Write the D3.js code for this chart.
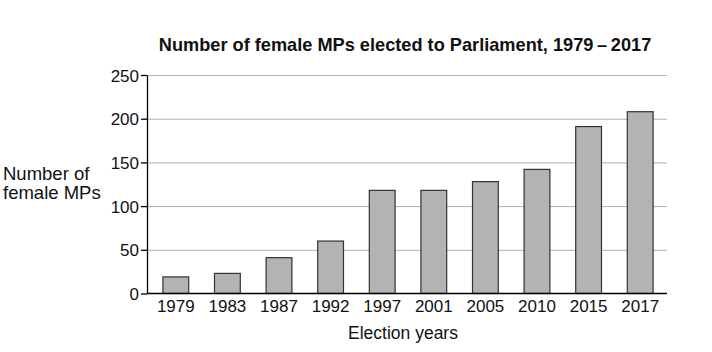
<!DOCTYPE html>
<html>
<head>
<meta charset="utf-8">
<script src="https://cdn.jsdelivr.net/npm/d3@7"></script>
<style>
  body { margin: 0; background: #fff; }
  svg, svg text { font-family: "Liberation Sans", Arial, sans-serif; }
  .grid line { stroke: #b0b0b0; stroke-width: 1; }
  .grid .domain { display: none; }
  .axis text { font-size: 17px; fill: #111; font-family: "Liberation Sans", Arial, sans-serif; }
  .axis line, .axis path { stroke: #000; stroke-width: 1.3; }
  .bar { fill: #b3b3b3; stroke: #333; stroke-width: 1.2; }
</style>
</head>
<body>
<svg width="712" height="352"></svg>
<script>
const years = ["1979", "1983", "1987", "1992", "1997", "2001", "2005", "2010", "2015", "2017"];
const femaleMPs = [19, 23, 41, 60, 118, 118, 128, 142, 191, 208];
const yTicks = [0, 50, 100, 150, 200, 250];

const svg = d3.select("svg");
const plotLeft = 147, plotRight = 667, plotTop = 75, plotBottom = 293.5;

const x = d3.scaleBand()
  .domain(years)
  .range([plotLeft + 3, plotRight - 1])
  .paddingInner(0.5)
  .paddingOuter(0.25);

const y = d3.scaleLinear()
  .domain([0, 250])
  .range([plotBottom, plotTop]);

// gridlines
svg.append("g")
  .attr("class", "grid")
  .attr("transform", `translate(${plotLeft},0)`)
  .call(d3.axisLeft(y).tickValues(yTicks.slice(1)).tickSize(-(plotRight - plotLeft)).tickFormat(""));

// bars
svg.selectAll(".bar")
  .data(years.map((yr, i) => ({ yr, v: femaleMPs[i] })))
  .enter()
  .append("rect")
  .attr("class", "bar")
  .attr("x", d => x(d.yr))
  .attr("y", d => y(d.v))
  .attr("width", x.bandwidth())
  .attr("height", d => y(0) - y(d.v));

// y axis
const yAxis = svg.append("g")
  .attr("class", "axis")
  .attr("transform", `translate(${plotLeft},0)`)
  .call(d3.axisLeft(y).tickValues(yTicks).tickSize(6).tickPadding(2).tickSizeOuter(0));
yAxis.selectAll("text").attr("dy", "0.36em");

// x axis
const xAxis = svg.append("g")
  .attr("class", "axis")
  .attr("transform", `translate(0,${plotBottom})`)
  .call(d3.axisBottom(x).tickSize(0).tickPadding(6));
xAxis.select(".domain").attr("d", `M${plotLeft},0H${plotRight}`);

// title
svg.append("text")
  .attr("x", 405)
  .attr("y", 51)
  .attr("text-anchor", "middle")
  .attr("font-weight", "bold")
  .attr("font-size", "18.2px")
  .attr("fill", "#111")
  .text("Number of female MPs elected to Parliament, 1979\u2009\u2013\u20092017");

// y label
const yl = svg.append("text")
  .attr("font-size", "18.5px")
  .attr("fill", "#111");
yl.append("tspan").attr("x", 3).attr("y", 180).text("Number of");
yl.append("tspan").attr("x", 3).attr("y", 199).text("female MPs");

// x label
svg.append("text")
  .attr("x", 403)
  .attr("y", 339)
  .attr("text-anchor", "middle")
  .attr("font-size", "17.5px")
  .attr("fill", "#111")
  .text("Election years");
</script>
</body>
</html>
